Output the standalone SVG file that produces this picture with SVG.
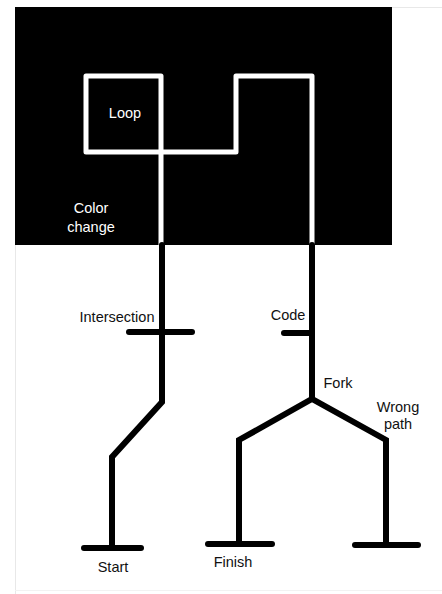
<svg xmlns="http://www.w3.org/2000/svg" width="442" height="594" viewBox="0 0 442 594">
<style>
.w{fill:none;stroke:#fff;stroke-width:5;stroke-linejoin:round;stroke-linecap:round}
.k{fill:none;stroke:#000;stroke-width:6;stroke-linejoin:miter;stroke-linecap:round}
.t{font-family:"Liberation Sans",Arial,sans-serif;font-size:14.5px;fill:#111}
.tw{fill:#fff}
</style>
<rect x="0" y="0" width="442" height="594" fill="#fff"/>
<path d="M15.5 594V7.5H442" fill="none" stroke="#e8e8e8" stroke-width="1"/>
<path d="M15 590.5H442" fill="none" stroke="#f2f2f2" stroke-width="1"/>
<g id="background">
<rect x="15" y="7" width="377" height="238" fill="#000"/>
</g>
<g id="connectors">
<path class="w" d="M161 245V76H86V152H236V76H312V245"/>
<path class="k" d="M162 245V402L112 457V548"/>
<path class="k" d="M84 548H141"/>
<path class="k" d="M129 332H192"/>
<path class="k" d="M312 245V399"/>
<path class="k" d="M284 333H312"/>
<path class="k" d="M239 544V440L312 399L386 440V545"/>
<path class="k" d="M208 544H272"/>
<path class="k" d="M355 545H418"/>
</g>
<g id="loop"><text class="t tw" x="125" y="118" text-anchor="middle">Loop</text></g>
<g id="color-change">
<text class="t tw" x="91" y="213" text-anchor="middle">Color</text>
<text class="t tw" x="91" y="232" text-anchor="middle">change</text>
</g>
<g id="intersection"><text class="t" x="117" y="322" text-anchor="middle">Intersection</text></g>
<g id="code"><text class="t" x="288" y="320" text-anchor="middle">Code</text></g>
<g id="fork"><text class="t" x="338" y="388" text-anchor="middle">Fork</text></g>
<g id="wrong-path">
<text class="t" x="398" y="412" text-anchor="middle">Wrong</text>
<text class="t" x="398" y="429" text-anchor="middle">path</text>
</g>
<g id="start"><text class="t" x="113" y="572" text-anchor="middle">Start</text></g>
<g id="finish"><text class="t" x="233" y="567" text-anchor="middle">Finish</text></g>
</svg>
